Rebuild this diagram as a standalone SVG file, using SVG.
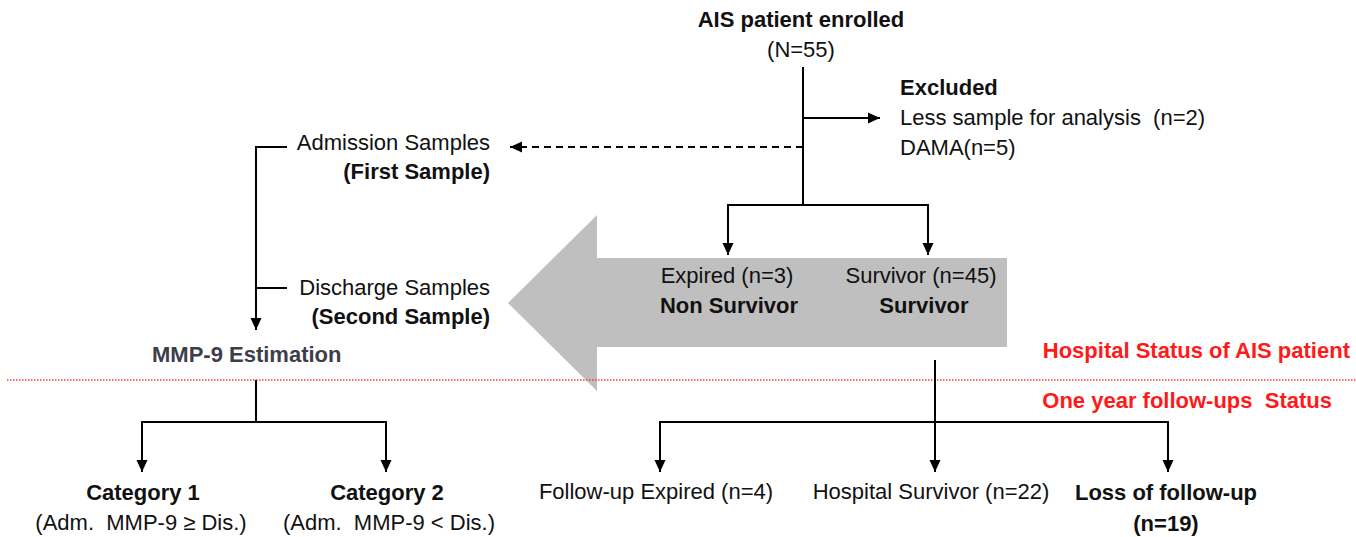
<svg xmlns="http://www.w3.org/2000/svg" width="1356" height="537" viewBox="0 0 1356 537">
<defs>
<marker id="ah" markerUnits="userSpaceOnUse" markerWidth="12" markerHeight="12" refX="12" refY="6" orient="auto">
<path d="M0,0.5 L12,6 L0,11.5 z" fill="#000"/>
</marker>
<style>
text{font-family:"Liberation Sans",Arial,sans-serif;font-size:22px;fill:#111}
.b{font-weight:bold}
.m{text-anchor:middle}
.e{text-anchor:end}
.red{fill:#ff1a1a;font-weight:bold}
.grey{fill:#3e3e4a;font-weight:bold}
.ln{stroke:#000;stroke-width:2;fill:none}
.arr{stroke:#000;stroke-width:2;fill:none;marker-end:url(#ah)}
</style>
</defs>
<rect width="1356" height="537" fill="#fff"/>

<g id="big-arrow">
<polygon points="1007,258 597,258 597,215 508,303 597,391 597,347 1007,347" fill="#bfbfbf"/>
</g>

<line x1="7" y1="380" x2="1356" y2="380" stroke="#ff3b3b" stroke-width="1.5" stroke-dasharray="1.5,1.5"/>

<g id="connectors">
<polyline class="ln" points="803,67 803,205"/>
<line class="arr" x1="803" y1="118" x2="880" y2="118"/>
<line class="ln" x1="803" y1="147" x2="520" y2="147" stroke-dasharray="7,5"/>
<line class="arr" x1="522" y1="147" x2="510" y2="147"/>
<polyline class="arr" points="803,205 728,205 728,255"/>
<polyline class="arr" points="803,205 928,205 928,255"/>
<polyline class="arr" points="287,147 256,147 256,330"/>
<line class="ln" x1="256" y1="288" x2="287" y2="288"/>
<polyline class="ln" points="256,380 256,422"/>
<polyline class="arr" points="256,422 142,422 142,472"/>
<polyline class="arr" points="256,422 386,422 386,472"/>
<line class="arr" x1="935" y1="360" x2="935" y2="472"/>
<polyline class="arr" points="935,422 660,422 660,472"/>
<polyline class="arr" points="935,422 1168,422 1168,472"/>
</g>

<g id="enrolled">
<text class="b m" x="801" y="27">AIS patient enrolled</text>
<text class="m" x="801" y="57">(N=55)</text>
</g>
<g id="excluded">
<text class="b" x="900" y="95">Excluded</text>
<text x="900" y="125" xml:space="preserve">Less sample for analysis  (n=2)</text>
<text x="900" y="155">DAMA(n=5)</text>
</g>
<g id="admission">
<text class="e" x="490" y="150">Admission Samples</text>
<text class="b e" x="490" y="179">(First Sample)</text>
</g>
<g id="discharge">
<text class="e" x="490" y="295">Discharge Samples</text>
<text class="b e" x="490" y="324">(Second Sample)</text>
</g>
<g id="mmp9">
<text class="grey" x="152" y="362">MMP-9 Estimation</text>
</g>
<g id="expired">
<text class="m" x="727" y="283">Expired (n=3)</text>
<text class="b m" x="729" y="313">Non Survivor</text>
</g>
<g id="survivor">
<text class="m" x="921" y="283">Survivor (n=45)</text>
<text class="b m" x="924" y="313">Survivor</text>
</g>
<g id="labels">
<text class="red e" x="1350" y="358">Hospital Status of AIS patient</text>
<text class="red e" x="1332" y="408" xml:space="preserve">One year follow-ups  Status</text>
</g>
<g id="cat1">
<text class="b m" x="143" y="500">Category 1</text>
<text class="m" x="141" y="530" xml:space="preserve">(Adm.  MMP-9 ≥ Dis.)</text>
</g>
<g id="cat2">
<text class="b m" x="387" y="500">Category 2</text>
<text class="m" x="389" y="530" xml:space="preserve">(Adm.  MMP-9 &lt; Dis.)</text>
</g>
<g id="fu-expired">
<text class="m" x="656" y="499">Follow-up Expired (n=4)</text>
</g>
<g id="hosp-survivor">
<text class="m" x="931" y="499">Hospital Survivor (n=22)</text>
</g>
<g id="loss">
<text class="b m" x="1166" y="500">Loss of follow-up</text>
<text class="b m" x="1166" y="531">(n=19)</text>
</g>
</svg>
